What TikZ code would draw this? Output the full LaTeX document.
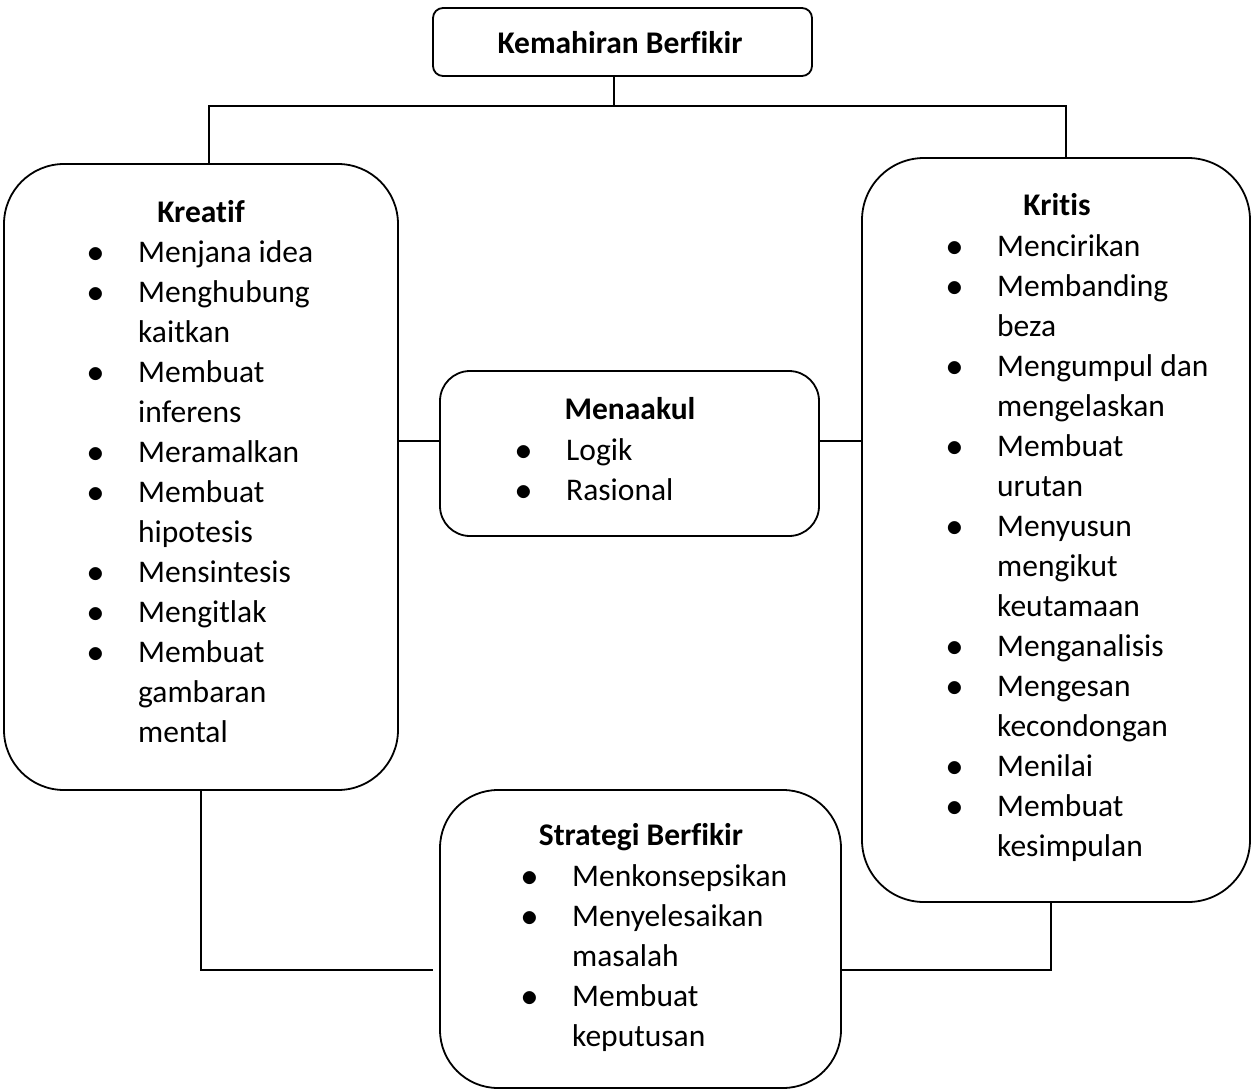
\documentclass[tikz,border=0pt]{standalone}
\usepackage{fontspec}
\usepackage{graphicx}
\setmainfont{Carlito}[Ligatures=CommonOff]
\usetikzlibrary{positioning}
\newcommand{\itm}{\llap{\scalebox{1.35}{$\bullet$}\hspace{34pt}}}

\tikzset{
  box/.style={draw, line width=1.8pt, inner sep=0pt},
  head/.style={anchor=base, inner sep=0pt, font=\fontsize{31.5}{40}\selectfont\bfseries},
  list/.style={anchor=base west, inner sep=0pt},
  link/.style={line width=1.8pt},
}

\begin{document}
\begin{tikzpicture}[x=1pt, y=-1pt, font=\fontsize{31.5}{40}\selectfont]
\useasboundingbox (0,0) rectangle (1253,1090);

% ---- boxes
\node[box, rounded corners=10pt, minimum width=379pt, minimum height=68pt] (kemahiran) at (622.5,42) {};
\node[box, rounded corners=60pt, minimum width=394pt, minimum height=626pt] (kreatif) at (201,477) {};
\node[box, rounded corners=62pt, minimum width=388pt, minimum height=744pt] (kritis) at (1056,530) {};
\node[box, rounded corners=30pt, minimum width=379pt, minimum height=165pt] (menaakul) at (629.5,453.5) {};
\node[box, rounded corners=58pt, minimum width=401pt, minimum height=298pt] (strategi) at (640.5,939) {};

% ---- texts
\node[head] (kemahiranH) at (620,53) {Kemahiran Berfikir};

\node[head] (kreatifH) at (201,222) {Kreatif};
\node[list] (kreatifL) at (138,262) {
    \begin{tabular}[t]{@{}l@{}}
    \itm Menjana idea\\
    \itm Menghubung\\
    kaitkan\\
    \itm Membuat\\
    inferens\\
    \itm Meramalkan\\
    \itm Membuat\\
    hipotesis\\
    \itm Mensintesis\\
    \itm Mengitlak\\
    \itm Membuat\\
    gambaran\\
    mental
    \end{tabular}
};

\node[head] (kritisH) at (1057,215) {Kritis};
\node[list] (kritisL) at (997,256) {
    \begin{tabular}[t]{@{}l@{}}
    \itm Mencirikan\\
    \itm Membanding\\
    beza\\
    \itm Mengumpul dan\\
    mengelaskan\\
    \itm Membuat\\
    urutan\\
    \itm Menyusun\\
    mengikut\\
    keutamaan\\
    \itm Menganalisis\\
    \itm Mengesan\\
    kecondongan\\
    \itm Menilai\\
    \itm Membuat\\
    kesimpulan
    \end{tabular}
};

\node[head] (menaakulH) at (630,419) {Menaakul};
\node[list] (menaakulL) at (566,460) {
    \begin{tabular}[t]{@{}l@{}}
    \itm Logik\\
    \itm Rasional
    \end{tabular}
};

\node[head] (strategiH) at (641,845) {Strategi Berfikir};
\node[list] (strategiL) at (572,886) {
    \begin{tabular}[t]{@{}l@{}}
    \itm Menkonsepsikan\\
    \itm Menyelesaikan\\
    masalah\\
    \itm Membuat\\
    keputusan
    \end{tabular}
};

% ---- connectors
\coordinate (topJ) at (614,106);
\coordinate (leftJ) at (209,106);
\coordinate (rightJ) at (1066,106);
\coordinate (midJ) at (0,441);
\coordinate (botL) at (433,970);
\coordinate (botR) at (1051,970);

\draw[link] (kemahiran.south -| topJ) -- (topJ);
\draw[link] (kreatif.north -| leftJ) -- (leftJ) -- (rightJ) -- (kritis.north -| rightJ);
\draw[link] (kreatif.east |- midJ) -- (menaakul.west |- midJ);
\draw[link] (menaakul.east |- midJ) -- (kritis.west |- midJ);
\draw[link] (kreatif.south) |- (botL);
\draw[link] (kritis.south -| botR) -- (botR) -- (strategi.east |- botR);

\end{tikzpicture}
\end{document}
